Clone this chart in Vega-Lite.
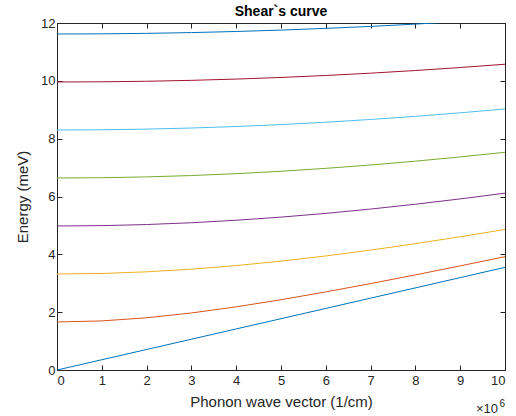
{
  "$schema": "https://vega.github.io/schema/vega-lite/v6.json",
  "autosize": "none",
  "width": 448,
  "height": 347,
  "padding": {"left": 57, "top": 23, "right": 11, "bottom": 46},
  "background": "white",
  "title": {"text": "Shear`s curve", "font": "Liberation Sans", "fontSize": 14, "fontWeight": "bold", "color": "#000000", "offset": -2},
  "config": {
    "view": {"stroke": "#262626", "strokeWidth": 1},
    "axis": {"labelFont": "Liberation Sans", "titleFont": "Liberation Sans", "labelColor": "#262626", "titleColor": "#262626", "domainColor": "#262626", "tickColor": "#262626", "grid": false, "labelFontSize": 13, "titleFontSize": 15, "titleFontWeight": "normal", "tickSize": -5, "labelPadding": 7}
  },
  "datasets": {
    "curves": [
    {"k":0,"E":0,"s":"n0"},{"k":1,"E":0.355,"s":"n0"},{"k":2,"E":0.71,"s":"n0"},{"k":3,"E":1.065,"s":"n0"},{"k":4,"E":1.42,"s":"n0"},{"k":5,"E":1.775,"s":"n0"},{"k":6,"E":2.13,"s":"n0"},{"k":7,"E":2.485,"s":"n0"},{"k":8,"E":2.84,"s":"n0"},{"k":9,"E":3.195,"s":"n0"},{"k":10,"E":3.55,"s":"n0"},
    {"k":0,"E":1.66,"s":"n1"},{"k":1,"E":1.6975,"s":"n1"},{"k":2,"E":1.8054,"s":"n1"},{"k":3,"E":1.9722,"s":"n1"},{"k":4,"E":2.1844,"s":"n1"},{"k":5,"E":2.4304,"s":"n1"},{"k":6,"E":2.7005,"s":"n1"},{"k":7,"E":2.9884,"s":"n1"},{"k":8,"E":3.2896,"s":"n1"},{"k":9,"E":3.6005,"s":"n1"},{"k":10,"E":3.919,"s":"n1"},
    {"k":0,"E":3.32,"s":"n2"},{"k":1,"E":3.3389,"s":"n2"},{"k":2,"E":3.3951,"s":"n2"},{"k":3,"E":3.4866,"s":"n2"},{"k":4,"E":3.6109,"s":"n2"},{"k":5,"E":3.7648,"s":"n2"},{"k":6,"E":3.9445,"s":"n2"},{"k":7,"E":4.147,"s":"n2"},{"k":8,"E":4.369,"s":"n2"},{"k":9,"E":4.6077,"s":"n2"},{"k":10,"E":4.8606,"s":"n2"},
    {"k":0,"E":4.98,"s":"n3"},{"k":1,"E":4.9926,"s":"n3"},{"k":2,"E":5.0303,"s":"n3"},{"k":3,"E":5.0926,"s":"n3"},{"k":4,"E":5.1785,"s":"n3"},{"k":5,"E":5.2869,"s":"n3"},{"k":6,"E":5.4164,"s":"n3"},{"k":7,"E":5.5656,"s":"n3"},{"k":8,"E":5.7329,"s":"n3"},{"k":9,"E":5.9168,"s":"n3"},{"k":10,"E":6.1158,"s":"n3"},
    {"k":0,"E":6.64,"s":"n4"},{"k":1,"E":6.6495,"s":"n4"},{"k":2,"E":6.6779,"s":"n4"},{"k":3,"E":6.7249,"s":"n4"},{"k":4,"E":6.7901,"s":"n4"},{"k":5,"E":6.8731,"s":"n4"},{"k":6,"E":6.9733,"s":"n4"},{"k":7,"E":7.0898,"s":"n4"},{"k":8,"E":7.2219,"s":"n4"},{"k":9,"E":7.3687,"s":"n4"},{"k":10,"E":7.5295,"s":"n4"},
    {"k":0,"E":8.3,"s":"n5"},{"k":1,"E":8.3076,"s":"n5"},{"k":2,"E":8.3303,"s":"n5"},{"k":3,"E":8.368,"s":"n5"},{"k":4,"E":8.4206,"s":"n5"},{"k":5,"E":8.4877,"s":"n5"},{"k":6,"E":8.569,"s":"n5"},{"k":7,"E":8.664,"s":"n5"},{"k":8,"E":8.7724,"s":"n5"},{"k":9,"E":8.8937,"s":"n5"},{"k":10,"E":9.0273,"s":"n5"},
    {"k":0,"E":9.96,"s":"n6"},{"k":1,"E":9.9663,"s":"n6"},{"k":2,"E":9.9853,"s":"n6"},{"k":3,"E":10.0168,"s":"n6"},{"k":4,"E":10.0607,"s":"n6"},{"k":5,"E":10.1169,"s":"n6"},{"k":6,"E":10.1852,"s":"n6"},{"k":7,"E":10.2653,"s":"n6"},{"k":8,"E":10.357,"s":"n6"},{"k":9,"E":10.4599,"s":"n6"},{"k":10,"E":10.5738,"s":"n6"},
    {"k":0,"E":11.62,"s":"n7"},{"k":1,"E":11.6254,"s":"n7"},{"k":2,"E":11.6417,"s":"n7"},{"k":3,"E":11.6687,"s":"n7"},{"k":4,"E":11.7064,"s":"n7"},{"k":5,"E":11.7548,"s":"n7"},{"k":6,"E":11.8136,"s":"n7"},{"k":7,"E":11.8827,"s":"n7"},{"k":8,"E":11.962,"s":"n7"},{"k":9,"E":12.0513,"s":"n7"},{"k":10,"E":12.1502,"s":"n7"}
    ],
    "exponent": [{"k": 10, "E": 0, "base": "×10", "power": "6"}]
  },
  "layer": [
    {
      "data": {"name": "curves"},
      "mark": {"type": "line", "strokeWidth": 1, "clip": true},
      "encoding": {
        "x": {"field": "k", "type": "quantitative", "scale": {"domain": [0, 10], "nice": false}, "axis": {"title": "Phonon wave vector (1/cm)", "values": [0,1,2,3,4,5,6,7,8,9,10], "labelPadding": 9, "titlePadding": 7}},
        "y": {"field": "E", "type": "quantitative", "scale": {"domain": [0, 12], "nice": false}, "axis": {"title": "Energy (meV)", "values": [0,2,4,6,8,10,12], "titlePadding": 10}},
        "color": {"field": "s", "type": "nominal", "legend": null, "scale": {"domain": ["n0","n1","n2","n3","n4","n5","n6","n7"], "range": ["#0072BD","#D95319","#EDB120","#7E2F8E","#77AC30","#4DBEEE","#A2142F","#0072BD"]}}
      }
    },
    {
      "data": {"name": "curves"},
      "mark": {"type": "line", "opacity": 0},
      "encoding": {
        "x": {"field": "k", "type": "quantitative", "scale": {"domain": [0, 10], "nice": false}, "axis": {"orient": "top", "title": null, "labels": false, "labelPadding": 0, "values": [0,1,2,3,4,5,6,7,8,9,10]}},
        "y": {"field": "E", "type": "quantitative", "scale": {"domain": [0, 12], "nice": false}, "axis": {"orient": "right", "title": null, "labels": false, "labelPadding": 0, "values": [0,2,4,6,8,10,12]}},
        "detail": {"field": "s"}
      }
    },
    {
      "data": {"name": "exponent"},
      "mark": {"type": "text", "font": "Liberation Sans", "fontSize": 13, "color": "#262626", "align": "right", "baseline": "alphabetic", "dx": -7, "dy": 43},
      "encoding": {
        "x": {"field": "k", "type": "quantitative", "axis": null},
        "y": {"field": "E", "type": "quantitative", "axis": null},
        "text": {"field": "base"}
      }
    },
    {
      "data": {"name": "exponent"},
      "mark": {"type": "text", "font": "Liberation Sans", "fontSize": 10, "color": "#262626", "align": "right", "baseline": "alphabetic", "dx": 0, "dy": 37},
      "encoding": {
        "x": {"field": "k", "type": "quantitative", "axis": null},
        "y": {"field": "E", "type": "quantitative", "axis": null},
        "text": {"field": "power"}
      }
    }
  ],
  "resolve": {"axis": {"x": "independent", "y": "independent"}}
}
